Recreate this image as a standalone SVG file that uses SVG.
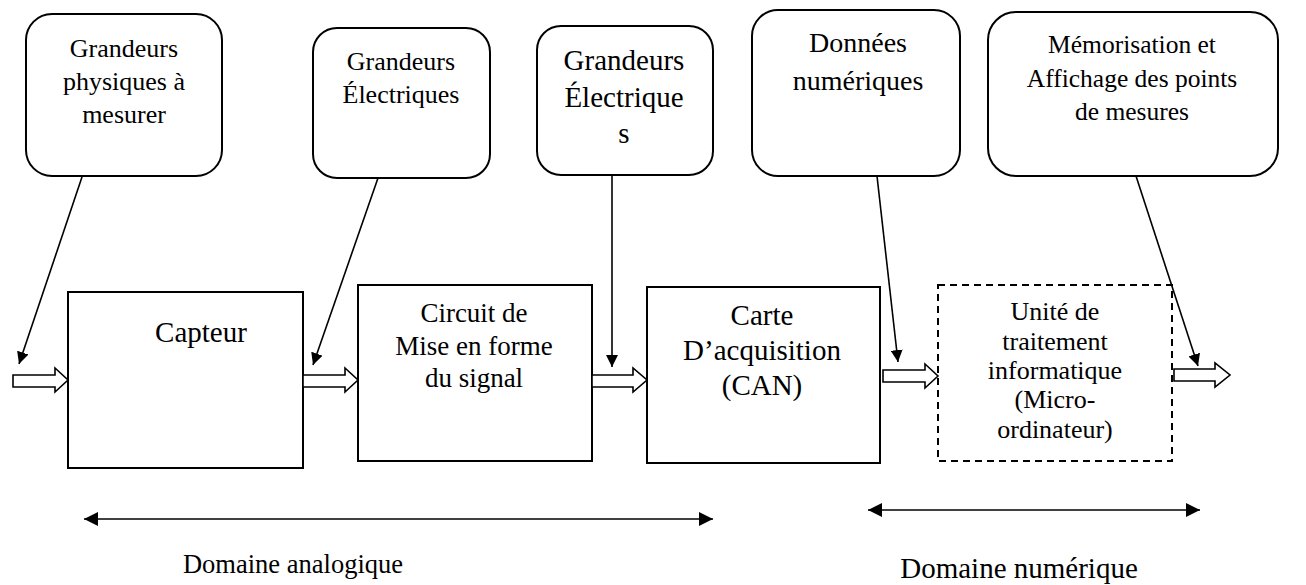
<svg xmlns="http://www.w3.org/2000/svg" width="1306" height="585" viewBox="0 0 1306 585">
<style>
text{font-family:'Liberation Serif','Times New Roman',serif;fill:#000;text-anchor:middle}
.rb{fill:#fff;stroke:#000;stroke-width:2}
.bx{fill:#fff;stroke:#000;stroke-width:2}
.dash{fill:#fff;stroke:#000;stroke-width:2;stroke-dasharray:7,5}
.ln{stroke:#000;stroke-width:1.6;fill:none}
.blk{fill:#fff;stroke:#000;stroke-width:1.6;stroke-linejoin:miter}
</style>
<defs>
<marker id="ah" viewBox="0 0 12 12" refX="12" refY="6" markerWidth="12" markerHeight="12" markerUnits="userSpaceOnUse" orient="auto-start-reverse">
<path d="M0,0 L12,6 L0,12 Z" fill="#000"/>
</marker>
<marker id="ah2" viewBox="0 0 14 14" refX="14" refY="7" markerWidth="14" markerHeight="14" markerUnits="userSpaceOnUse" orient="auto-start-reverse">
<path d="M0,0 L14,7 L0,14 Z" fill="#000"/>
</marker>
</defs>

<g id="grandeurs-physiques">
<rect class="rb" x="26" y="14" width="196" height="162" rx="26"/>
<text font-size="26"><tspan x="124" y="57">Grandeurs</tspan><tspan x="124" y="90">physiques à</tspan><tspan x="124" y="123">mesurer</tspan></text>
</g>
<g id="grandeurs-electriques-1">
<rect class="rb" x="313" y="28" width="177" height="150" rx="24"/>
<text font-size="26"><tspan x="401" y="70">Grandeurs</tspan><tspan x="401" y="103">Électriques</tspan></text>
</g>
<g id="grandeurs-electriques-2">
<rect class="rb" x="537" y="26" width="176" height="149" rx="24"/>
<text font-size="29"><tspan x="624" y="70">Grandeurs</tspan><tspan x="624" y="107">Électrique</tspan><tspan x="624" y="143">s</tspan></text>
</g>
<g id="donnees-numeriques">
<rect class="rb" x="752" y="10" width="208" height="166" rx="26"/>
<text font-size="28"><tspan x="858" y="52">Données</tspan><tspan x="858" y="90">numériques</tspan></text>
</g>
<g id="memorisation">
<rect class="rb" x="988" y="12" width="290" height="164" rx="28"/>
<text font-size="25.5"><tspan x="1132" y="53">Mémorisation et</tspan><tspan x="1132" y="87">Affichage des points</tspan><tspan x="1132" y="120">de mesures</tspan></text>
</g>

<g id="capteur">
<rect class="bx" x="68" y="292" width="235" height="176"/>
<text font-size="29" x="201" y="342">Capteur</text>
</g>
<g id="circuit">
<rect class="bx" x="358" y="285" width="234" height="176"/>
<text font-size="27"><tspan x="474" y="322">Circuit de</tspan><tspan x="474" y="355">Mise en forme</tspan><tspan x="474" y="387">du signal</tspan></text>
</g>
<g id="carte">
<rect class="bx" x="647" y="287" width="233" height="176"/>
<text font-size="29"><tspan x="762" y="325">Carte</tspan><tspan x="762" y="360">D’acquisition</tspan><tspan x="762" y="395">(CAN)</tspan></text>
</g>
<g id="unite">
<rect class="dash" x="938" y="285" width="234" height="176"/>
<text font-size="26"><tspan x="1055" y="320">Unité de</tspan><tspan x="1055" y="350">traitement</tspan><tspan x="1055" y="379">informatique</tspan><tspan x="1055" y="408">(Micro-</tspan><tspan x="1055" y="438">ordinateur)</tspan></text>
</g>

<g id="connectors">
<line class="ln" x1="82" y1="177" x2="19" y2="364" marker-end="url(#ah)"/>
<line class="ln" x1="378" y1="178" x2="313" y2="365" marker-end="url(#ah)"/>
<line class="ln" x1="612" y1="175" x2="612" y2="367" marker-end="url(#ah)"/>
<line class="ln" x1="877" y1="176" x2="898" y2="362" marker-end="url(#ah)"/>
<line class="ln" x1="1136" y1="176" x2="1198" y2="366" marker-end="url(#ah)"/>

<polygon class="blk" points="13,375 55,375 55,368 68,380 55,392 55,387 13,387"/>
<polygon class="blk" points="303,375 345,375 345,368 358,380 345,392 345,387 303,387"/>
<polygon class="blk" points="592,375 633,375 633,368 647,380 633,392 633,387 592,387"/>
<polygon class="blk" points="883,370 925,370 925,364 938,376 925,388 925,382 883,382"/>
<polygon class="blk" points="1174,369 1215,369 1215,363 1230,375 1215,387 1215,381 1174,381"/>

<line class="ln" x1="84" y1="519" x2="713" y2="519" marker-start="url(#ah2)" marker-end="url(#ah2)"/>
<line class="ln" x1="868" y1="510" x2="1200" y2="510" marker-start="url(#ah2)" marker-end="url(#ah2)"/>
</g>

<text font-size="26.5" x="293" y="573">Domaine analogique</text>
<text font-size="29" x="1019" y="578">Domaine numérique</text>
</svg>
